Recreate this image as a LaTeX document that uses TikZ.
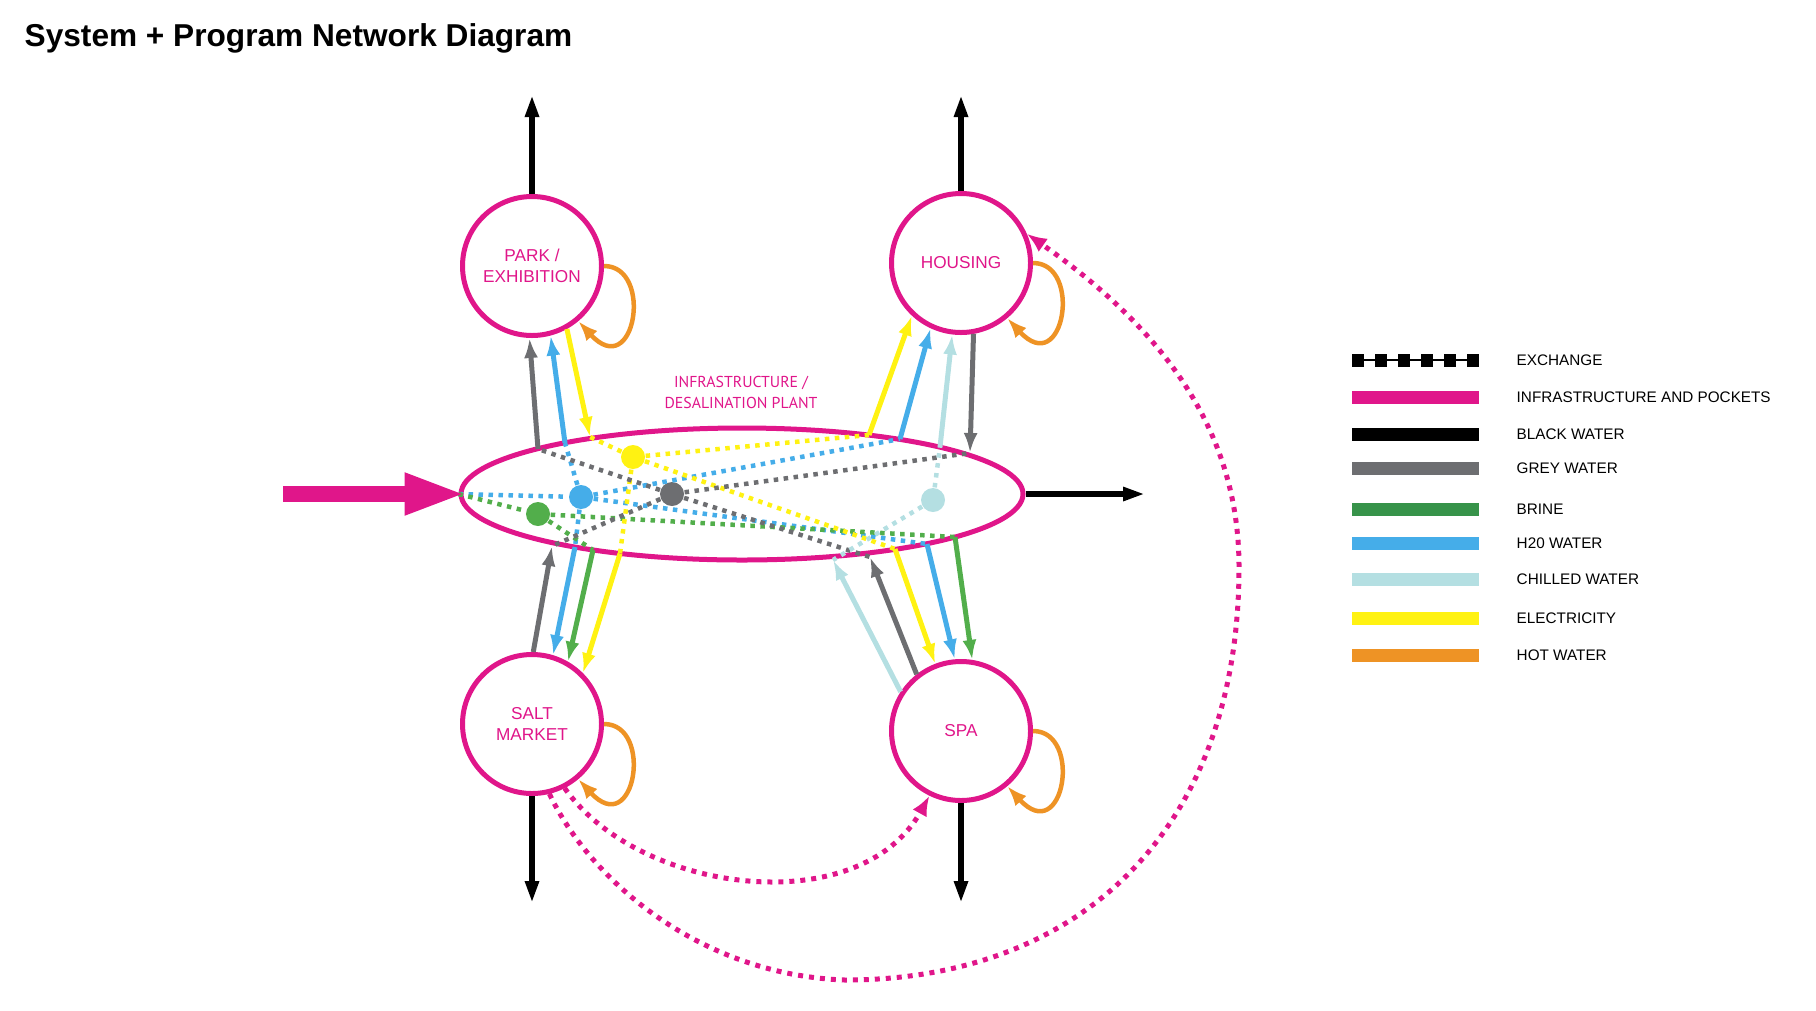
\documentclass[tikz,border=0pt]{standalone}
\usepackage{fontspec}
\setmainfont{Liberation Sans}
\newfontfamily\plantfont{PT Sans}
\usepackage{tikz}
\usetikzlibrary{arrows.meta,shapes.geometric,positioning}
\definecolor{sysMagenta}{HTML}{E0168A}
\definecolor{sysGrey}{HTML}{6D6E71}
\definecolor{sysBrine}{HTML}{52AE4B}
\definecolor{sysBrineKey}{HTML}{37934A}
\definecolor{sysH2o}{HTML}{45ADE9}
\definecolor{sysChill}{HTML}{B4DFE2}
\definecolor{sysElec}{HTML}{FFF212}
\definecolor{sysHot}{HTML}{EE9325}
\tikzset{
  sysbldg/.style={circle,draw=sysMagenta,line width=0.05cm,fill=white,
                  minimum size=1.39cm,inner sep=0pt,align=center,
                  text=sysMagenta,font=\fontsize{4.9}{6}\selectfont},
  sysplant/.style={ellipse,draw=sysMagenta,line width=0.05cm,
                   minimum width=5.62cm,minimum height=1.32cm,inner sep=0pt},
  syshub/.style={circle,minimum size=0.24cm,inner sep=0pt},
  sysflow/.style={-{Latex[length=0.2cm,width=0.14cm]},line width=0.05cm},
  sysdot/.style={line width=0.045cm,dash pattern=on 0.045cm off 0.055cm},
  sysout/.style={-{Triangle[length=0.22cm,width=0.13cm]},line width=0.06cm,black},
  sysin/.style={-{Triangle[length=0.62cm,width=0.38cm]},line width=0.16cm,
                sysMagenta,shorten >=-0.08cm},
  sysloop/.style={-{Latex[length=0.2cm,width=0.15cm]},line width=0.045cm,sysHot},
  sysxchg/.style={-{Latex[length=0.2cm,width=0.16cm]},line width=0.05cm,
                  sysMagenta,dash pattern=on 0.05cm off 0.06cm},
  syskey/.style={line width=0.13cm},
  syskeytext/.style={anchor=west,inner sep=0pt,font=\fontsize{4.35}{5}\selectfont}
}

\begin{document}
\begin{tikzpicture}[x=1cm,y=1cm]
    \useasboundingbox (0,0) rectangle (18.16,-10.10);
    \node[anchor=base west,inner sep=0pt,font=\fontsize{9}{11}\selectfont\bfseries]
      (title) at (0.24,-0.46) {System + Program Network Diagram};

    % plant and buildings
    \node[sysplant] (plant) at (7.42,-4.94) {};
    \node[text=sysMagenta,align=center,
          font=\plantfont\fontsize{4.5}{6}\selectfont] (plantlbl) at (7.41,-3.925)
      {INFRASTRUCTURE /\\DESALINATION PLANT};
    \node[sysbldg] (park) at (5.32,-2.66) {PARK /\\EXHIBITION};
    \node[sysbldg] (housing) at (9.61,-2.63) {HOUSING};
    \node[sysbldg] (salt) at (5.32,-7.24) {SALT\\MARKET};
    \node[sysbldg] (spa) at (9.61,-7.31) {SPA};

    % points on the plant border
    \coordinate (pkGrey) at (5.38,-4.49);
    \coordinate (pkH2o) at (5.65,-4.43);
    \coordinate (pkElec) at (5.90,-4.37);
    \coordinate (hsElec) at (8.69,-4.35);
    \coordinate (hsH2o) at (9.00,-4.39);
    \coordinate (hsChill) at (9.40,-4.47);
    \coordinate (hsGrey) at (9.70,-4.53);
    \coordinate (smGrey) at (5.52,-5.46);
    \coordinate (smH2o) at (5.75,-5.47);
    \coordinate (smBrine) at (5.93,-5.50);
    \coordinate (smElec) at (6.20,-5.535);
    \coordinate (spChill) at (8.33,-5.60);
    \coordinate (spGrey) at (8.70,-5.57);
    \coordinate (spElec) at (8.95,-5.49);
    \coordinate (spH2o) at (9.27,-5.44);
    \coordinate (spBrine) at (9.55,-5.37);

    % hubs inside the plant
    \node[syshub,fill=sysH2o] (hubH2o) at (5.81,-4.97) {};
    \node[syshub,fill=sysBrine] (hubBrine) at (5.38,-5.14) {};
    \node[syshub,fill=sysElec] (hubElec) at (6.33,-4.57) {};
    \node[syshub,fill=sysGrey] (hubGrey) at (6.72,-4.94) {};
    \node[syshub,fill=sysChill] (hubChill) at (9.33,-5.00) {};

    \draw[sysdot,sysH2o] (plant.west) -- (hubH2o);
    \draw[sysdot,sysH2o] (hubH2o) -- (pkH2o);
    \draw[sysdot,sysH2o] (hubH2o) -- (hsH2o);
    \draw[sysdot,sysH2o] (hubH2o) -- (smH2o);
    \draw[sysdot,sysH2o] (hubH2o) -- (spH2o);
    \draw[sysdot,sysBrine] (plant.west) -- (hubBrine);
    \draw[sysdot,sysBrine] (hubBrine) -- (smBrine);
    \draw[sysdot,sysBrine] (hubBrine) -- (spBrine);
    \draw[sysdot,sysElec] (hubElec) -- (pkElec);
    \draw[sysdot,sysElec] (hubElec) -- (hsElec);
    \draw[sysdot,sysElec] (hubElec) -- (smElec);
    \draw[sysdot,sysElec] (hubElec) -- (spElec);
    \draw[sysdot,sysGrey] (hubGrey) -- (pkGrey);
    \draw[sysdot,sysGrey] (hubGrey) -- (hsGrey);
    \draw[sysdot,sysGrey] (hubGrey) -- (smGrey);
    \draw[sysdot,sysGrey] (hubGrey) -- (spGrey);
    \draw[sysdot,sysChill] (hubChill) -- (hsChill);
    \draw[sysdot,sysChill] (hubChill) -- (spChill);

    % flows between plant and buildings
    \draw[sysflow,sysGrey] (pkGrey) -- (park.-92);
    \draw[sysflow,sysH2o] (pkH2o) -- (park.-75);
    \draw[sysflow,sysElec] (park.-61) -- (pkElec);
    \draw[sysflow,sysElec] (hsElec) -- (housing.-133);
    \draw[sysflow,sysH2o] (hsH2o) -- (housing.-115);
    \draw[sysflow,sysChill] (hsChill) -- (housing.-97);
    \draw[sysflow,sysGrey] (housing.-80) -- (hsGrey);
    \draw[sysflow,sysGrey] (salt.89) -- (smGrey);
    \draw[sysflow,sysH2o] (smH2o) -- (salt.73);
    \draw[sysflow,sysBrine] (smBrine) -- (salt.60);
    \draw[sysflow,sysElec] (smElec) -- (salt.45);
    \draw[sysflow,sysChill] (spa.147) -- (spChill);
    \draw[sysflow,sysGrey] (spa.128) -- (spGrey);
    \draw[sysflow,sysElec] (spElec) -- (spa.111);
    \draw[sysflow,sysH2o] (spH2o) -- (spa.95);
    \draw[sysflow,sysBrine] (spBrine) -- (spa.81);

    % hot water loops
    \draw[sysloop] (park.east) .. controls +(0.5,0) and +(0.57,-0.62) .. (park.-50);
    \draw[sysloop] (housing.east) .. controls +(0.5,0) and +(0.57,-0.62) .. (housing.-50);
    \draw[sysloop] (salt.east) .. controls +(0.5,0) and +(0.57,-0.62) .. (salt.-50);
    \draw[sysloop] (spa.east) .. controls +(0.5,0) and +(0.57,-0.62) .. (spa.-50);

    % black water out, sea water in
    \coordinate (pkOut) at (5.32,-0.95);
    \coordinate (hsOut) at (9.61,-0.95);
    \coordinate (smOut) at (5.32,-9.03);
    \coordinate (spOut) at (9.61,-9.03);
    \coordinate (plOut) at (11.45,-4.94);
    \coordinate (inlet) at (2.83,-4.94);
    \draw[sysout] (park.north) -- (pkOut);
    \draw[sysout] (housing.north) -- (hsOut);
    \draw[sysout] (salt.south) -- (smOut);
    \draw[sysout] (spa.south) -- (spOut);
    \draw[sysout] (plant.east) -- (plOut);
    \draw[sysin] (inlet) -- (plant.west);

    % exchange between buildings
    \draw[sysxchg] (salt.-63) .. controls (6.40,-8.95) and (8.60,-9.21) .. (spa.-116);
    \draw[sysxchg] (salt.-76) .. controls (5.90,-8.80) and (7.00,-9.75) .. (8.45,-9.80)
      .. controls (10.80,-9.80) and (12.39,-8.30) .. (12.39,-5.67)
      .. controls (12.39,-4.20) and (11.50,-3.20) .. (housing.24);

    % key
    \draw[line width=0.015cm] (13.52,-3.60) -- (14.79,-3.60);
    \draw[syskey,dash pattern=on 0.12cm off 0.11cm] (13.52,-3.60) -- (14.79,-3.60);
    \draw[syskey,sysMagenta] (13.52,-3.97) -- (14.79,-3.97);
    \draw[syskey,black] (13.52,-4.34) -- (14.79,-4.34);
    \draw[syskey,sysGrey] (13.52,-4.68) -- (14.79,-4.68);
    \draw[syskey,sysBrineKey] (13.52,-5.09) -- (14.79,-5.09);
    \draw[syskey,sysH2o] (13.52,-5.43) -- (14.79,-5.43);
    \draw[syskey,sysChill] (13.52,-5.79) -- (14.79,-5.79);
    \draw[syskey,sysElec] (13.52,-6.18) -- (14.79,-6.18);
    \draw[syskey,sysHot] (13.52,-6.55) -- (14.79,-6.55);
    \node[syskeytext] (kExch) at (15.16,-3.60) {EXCHANGE};
    \node[syskeytext] (kInfra) at (15.16,-3.97) {INFRASTRUCTURE AND POCKETS};
    \node[syskeytext] (kBlack) at (15.16,-4.34) {BLACK WATER};
    \node[syskeytext] (kGrey) at (15.16,-4.68) {GREY WATER};
    \node[syskeytext] (kBrine) at (15.16,-5.09) {BRINE};
    \node[syskeytext] (kH2o) at (15.16,-5.43) {H20 WATER};
    \node[syskeytext] (kChill) at (15.16,-5.79) {CHILLED WATER};
    \node[syskeytext] (kElec) at (15.16,-6.18) {ELECTRICITY};
    \node[syskeytext] (kHot) at (15.16,-6.55) {HOT WATER};
  \end{tikzpicture}
\end{document}
